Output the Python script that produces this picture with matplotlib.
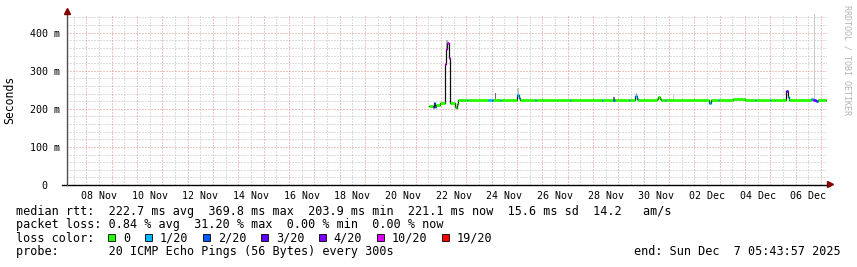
import numpy as np
import pandas as pd
import matplotlib
matplotlib.use('Agg')
import matplotlib.pyplot as plt
from matplotlib.patches import Rectangle

# median rtt segments: start time, median (ms), loss bucket index
seg_times = [
    "11-21 12:40", "11-21 16:25", "11-21 17:25", "11-21 18:20", "11-21 19:15",
    "11-21 23:05", "11-22 03:50", "11-22 05:15", "11-22 06:10", "11-22 08:05",
    "11-22 09:00", "11-22 13:15", "11-22 14:15", "11-22 15:10", "11-22 16:35",
    "11-23 00:40", "11-23 01:35", "11-23 20:30", "11-24 00:20", "11-24 01:15",
    "11-24 07:55", "11-24 08:50", "11-25 00:00", "11-25 01:55", "11-25 02:50",
    "11-25 17:05", "11-25 18:00", "11-25 19:00", "11-26 13:55", "11-27 02:15",
    "11-27 03:10", "11-28 08:30", "11-28 09:25", "11-28 19:00", "11-28 20:50",
    "11-29 10:05", "11-29 11:00", "11-29 15:50", "11-29 18:10", "11-29 19:05",
    "11-30 12:40", "11-30 13:35", "11-30 15:30", "11-30 16:25", "11-30 20:15",
    "11-30 21:10", "12-02 13:55", "12-02 15:50", "12-02 22:25", "12-02 23:20",
    "12-03 12:40", "12-04 00:00", "12-04 09:30", "12-04 10:25", "12-04 23:40",
    "12-05 00:35", "12-05 04:25", "12-05 14:50", "12-05 17:15", "12-05 18:10",
    "12-06 14:15", "12-06 16:45", "12-06 19:15", "12-06 21:10",
]
seg_rtt = [
    207, 204, 214, 206, 210,
    215, 318, 357, 372, 333,
    214, 204, 201, 212, 223,
    223, 223, 222, 223, 223,
    223, 224, 236, 229, 222,
    222, 222, 224, 222, 222,
    222, 222, 222, 222, 222,
    222, 222, 233, 226, 222,
    226, 231, 226, 222, 222,
    222, 216, 222, 222, 222,
    225, 222, 222, 222, 222,
    222, 224, 247, 232, 222,
    226, 223, 221, 222,
]
seg_loss = [
    0, 3, 2, 1, 0,
    0, 5, 5, 5, 5,
    0, 0, 0, 0, 0,
    1, 0, 1, 2, 0,
    1, 0, 1, 1, 0,
    1, 0, 0, 0, 1,
    0, 1, 0, 2, 0,
    1, 0, 1, 1, 0,
    0, 0, 0, 0, 1,
    0, 1, 0, 1, 0,
    0, 0, 1, 0, 1,
    0, 0, 4, 1, 0,
    1, 4, 2, 0,
]
data_end = "12-07 04:45"

# smoke (spread of the pings) where it is visible
smoke_start = ["11-22 05:15", "11-24 03:10", "11-25 00:00", "11-28 19:00",
               "11-29 16:45", "12-01 03:50", "12-06 17:20"]
smoke_end = ["11-22 07:05", "11-24 04:05", "11-25 01:55", "11-28 20:50",
             "11-29 18:10", "12-01 04:45", "12-06 18:15"]
smoke_low = [355, 222, 236, 222, 230, 222, 222]
smoke_high = [380, 241, 254, 231, 241, 239, 470]
smoke_color = ['#b4b4b4', '#6a6a6a', '#c4c4c4', '#727272', '#b0b0b0',
               '#cccccc', '#c8c8c8']

loss_labels = ["0", "1/20", "2/20", "3/20", "4/20", "10/20", "19/20"]
loss_colors = ['#26ff00', '#00b8ff', '#0059ff', '#5e00ff', '#7e00ff',
               '#dd00ff', '#ff0000']

y_ticks = [0, 100, 200, 300, 400]
y_ticklabels = ["0  ", "100 m", "200 m", "300 m", "400 m"]

stats_rtt = "median rtt:  222.7 ms avg  369.8 ms max  203.9 ms min  221.1 ms now  15.6 ms sd  14.2   am/s"
stats_loss = "packet loss: 0.84 % avg  31.20 % max  0.00 % min  0.00 % now"
probe_text = "probe:       20 ICMP Echo Pings (56 Bytes) every 300s"
end_text = "end: Sun Dec  7 05:43:57 2025"

t_start = pd.Timestamp("2025-11-07 05:43:57")
t_end = pd.Timestamp("2025-12-07 05:43:57")


def ts(s):
    return pd.Timestamp("2025-" + s)


MONO = 'DejaVu Sans Mono'
W, H = 857, 267

fig = plt.figure(figsize=(W / 100, H / 100), dpi=100)
fig.patch.set_facecolor('white')
ax = fig.add_axes([67 / W, 1 - 185 / H, 760 / W, 171 / H])
ax.set_xlim(t_start, t_end)
ax.set_ylim(0, 449)
for s in ax.spines.values():
    s.set_visible(False)

# grid (dotted, like rrdtool)
dots = (0, (1, 2))
minor_c, major_c = '#bcbcbc', '#e08a8a'
for t in pd.date_range("2025-11-07 12:00", "2025-12-07 00:00", freq="12h"):
    if t.hour != 0:
        ax.axvline(t, color=minor_c, lw=0.72, ls=dots, zorder=0.5)
for t in pd.date_range("2025-11-08", "2025-12-07", freq="D"):
    ax.axvline(t, color=major_c, lw=0.72, ls=dots, zorder=0.6)
for v in range(20, 449, 20):
    if v % 100:
        ax.axhline(v, color=minor_c, lw=0.72, ls=dots, zorder=0.5)
for v in range(100, 449, 100):
    ax.axhline(v, color=major_c, lw=0.72, ls=dots, zorder=0.6)

# smoke
for a, b, lo, hi, c in zip(smoke_start, smoke_end, smoke_low, smoke_high, smoke_color):
    ax.fill_between([ts(a), ts(b)], [lo, lo], [hi, hi], color=c, lw=0, zorder=2)

# median line: dark connector + loss-coloured segments
times = [ts(s) for s in seg_times] + [ts(data_end)]
ax.step(times, seg_rtt + [seg_rtt[-1]], where='post', color='#111111', lw=0.9, zorder=3)
for i in range(len(seg_rtt)):
    ax.plot([times[i], times[i + 1]], [seg_rtt[i], seg_rtt[i]],
            color=loss_colors[seg_loss[i]], lw=2.0, solid_capstyle='butt', zorder=4)

# axes lines and arrows
ax.plot([-5 / 760, 1.0035], [0, 0], color='black', lw=1.0, transform=ax.transAxes,
        clip_on=False, zorder=5)
ax.plot([0, 0], [0, 1.0], color='#505050', lw=1.0, transform=ax.transAxes,
        clip_on=False, zorder=5)
ax.plot([1.0046], [0.005], marker='>', ms=4.5, color='#800000', mec='#800000',
        transform=ax.transAxes, clip_on=False, zorder=6)
ax.plot([0], [1.02], marker='^', ms=4.5, color='#800000', mec='#800000',
        transform=ax.transAxes, clip_on=False, zorder=6)

# ticks
label_days = pd.date_range("2025-11-08 12:00", "2025-12-06 12:00", freq="2D")
ax.set_xticks(label_days)
ax.set_xticklabels([d.strftime("%d %b") for d in label_days], family=MONO, fontsize=7.2)
ax.set_yticks(y_ticks)
ax.set_yticklabels(y_ticklabels, family=MONO, fontsize=7.2)
ax.tick_params(axis='x', length=0, pad=4.5)
ax.tick_params(axis='y', length=0, pad=5)

fig.text(10 / W, 1 - 100 / H, "Seconds", rotation=90, ha='center', va='center',
         family=MONO, fontsize=8.3)
fig.text(847 / W, 1 - 5 / H, "RRDTOOL / TOBI OETIKER", rotation=270, ha='center',
         va='top', family=MONO, fontsize=6.0, color='#b4b4b4')

# legend block
fig.text(16 / W, 1 - 214.8 / H, stats_rtt, family=MONO, fontsize=8.5, va='baseline')
fig.text(16 / W, 1 - 228.3 / H, stats_loss, family=MONO, fontsize=8.5, va='baseline')
fig.text(16 / W, 1 - 241.5 / H, "loss color:", family=MONO, fontsize=8.5, va='baseline')
fig.text(16 / W, 1 - 255 / H, probe_text, family=MONO, fontsize=8.5, va='baseline')
fig.text(841 / W, 1 - 255 / H, end_text, family=MONO, fontsize=8.5, va='baseline', ha='right')

bx = 108
for lab, col in zip(loss_labels, loss_colors):
    fig.patches.append(Rectangle((bx / W, 1 - 241 / H), 7.5 / W, 7.5 / H,
                                 transform=fig.transFigure, facecolor=col,
                                 edgecolor='black', lw=0.6))
    fig.text((bx + 15) / W, 1 - 241.5 / H, lab, family=MONO, fontsize=8.5, va='baseline')
    bx += 29.7 + len(lab) * 7.08

fig.savefig("out.png", dpi=100, facecolor='white')
